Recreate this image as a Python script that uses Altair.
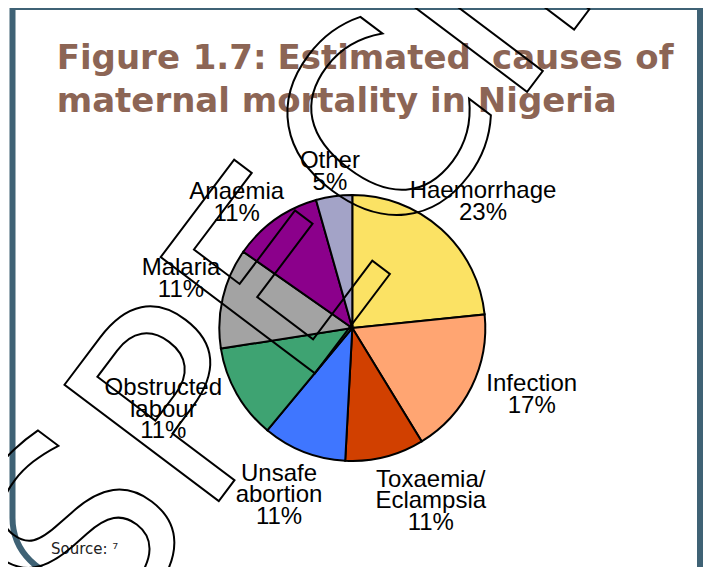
import altair as alt
import pandas as pd

# ---- data ----
causes = ["Haemorrhage", "Infection", "Toxaemia/Eclampsia", "Unsafe abortion",
          "Obstructed labour", "Malaria", "Anaemia", "Other"]
label_pct = [23, 17, 11, 11, 11, 11, 11, 5]
# share of the circle each slice actually occupies in the picture (%)
slice_share = [23.4, 17.9, 9.6, 10.2, 11.5, 12.2, 10.9, 4.4]
label_lines = [["Haemorrhage"], ["Infection"], ["Toxaemia/", "Eclampsia"], ["Unsafe", "abortion"],
               ["Obstructed", "labour"], ["Malaria"], ["Anaemia"], ["Other"]]
colors = ["#FBE264", "#FFA572", "#D14000", "#3F76FF", "#3EA372", "#A3A3A3", "#8B008B", "#A3A3C7"]

# label anchors (first-line baseline), in units of the pie radius relative to the pie centre
label_x = [0.983, 1.349, 0.590, -0.551, -1.421, -1.288, -0.869, -0.168]
label_y = [0.977, -0.474, -1.193, -1.150, -0.504, 0.398, 0.968, 1.203]

title_words_1 = ["Figure", "1.7:", "Estimated", "causes", "of"]
title_line_2 = "maternal mortality in Nigeria"

W, H = 695, 559
CX, CY, R = 344.3, 320.0, 133
TITLE_COLOR = "#8c6555"

df = pd.DataFrame({
    "idx": list(range(len(causes))),
    "cause": causes,
    "share": slice_share,
    "label": ["\n".join(l + [f"{p}%"]) for l, p in zip(label_lines, label_pct)],
    "lx": label_x,
    "ly": label_y,
})

one = alt.Data(values=[{"a": 0}])

frame = alt.Chart(one).mark_rect(
    fill="transparent", stroke="#3f6275", strokeWidth=6, cornerRadiusBottomLeft=60
).encode(x=alt.value(4.5), x2=alt.value(692), y=alt.value(-1), y2=alt.value(570))

pie = alt.Chart(df).mark_arc(radius=R, stroke="black", strokeWidth=2).encode(
    theta=alt.Theta("share:Q", stack=True),
    color=alt.Color("cause:N", scale=alt.Scale(domain=causes, range=colors), legend=None),
    order=alt.Order("idx:Q"),
    x=alt.value(CX), y=alt.value(CY),
)

labels = alt.Chart(df).mark_text(
    font="Liberation Sans", fontSize=24, lineBreak="\n", lineHeight=21.5,
    align="center", baseline="alphabetic", color="black"
).encode(
    x=alt.X("lx:Q", scale=alt.Scale(domain=[-1, 1], range=[CX - R, CX + R], nice=False, zero=False), axis=None),
    y=alt.Y("ly:Q", scale=alt.Scale(domain=[-1, 1], range=[CY + R, CY - R], nice=False, zero=False), axis=None),
    text="label:N",
)

title_font = dict(font="DejaVu Sans", fontWeight="bold", fontSize=34, color=TITLE_COLOR,
                  baseline="alphabetic")
word_x = [48.7, 184.7, 269.5, 484, 665.5]
word_align = ["left", "left", "left", "left", "right"]
title_layers = [
    alt.Chart(one).mark_text(text=w, align=a, **title_font).encode(x=alt.value(xp), y=alt.value(60.5))
    for w, xp, a in zip(title_words_1, word_x, word_align)
]
title_layers.append(
    alt.Chart(one).mark_text(text=title_line_2, align="left", **title_font)
    .encode(x=alt.value(48.7), y=alt.value(104))
)

source = alt.Chart(one).mark_text(
    text="Source: \u2077", font="DejaVu Sans", fontSize=15, color="#222222",
    align="left", baseline="alphabetic"
).encode(x=alt.value(43), y=alt.value(546))

watermark = alt.Chart(one).mark_text(
    text="SPECIMEN", font="DejaVu Sans", fontSize=265, angle=307,
    align="left", baseline="middle", fill="transparent", stroke="black", strokeWidth=2
).encode(x=alt.value(30), y=alt.value(600))

chart = alt.layer(frame, pie, labels, *title_layers, source, watermark).properties(
    width=W, height=H, padding=0, autosize=alt.AutoSizeParams(type="none"), background="white"
).configure_view(stroke=None)

chart.save("out.html", embed_options={"renderer": "svg", "actions": False})
